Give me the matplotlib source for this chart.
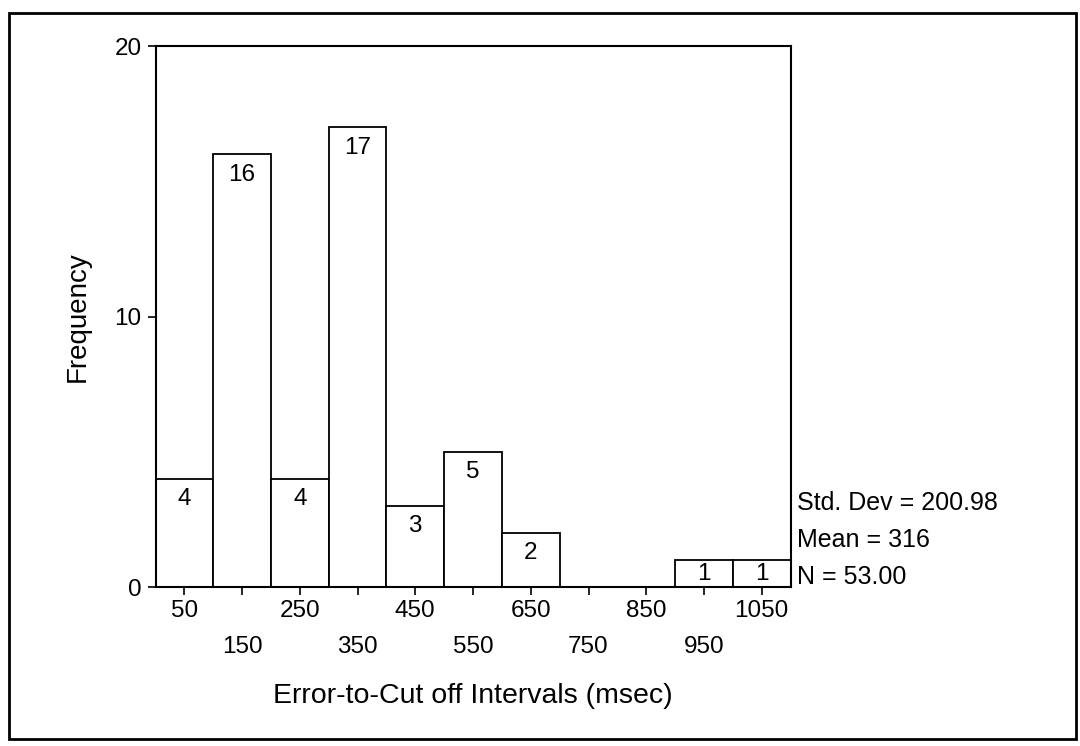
import numpy as np
import matplotlib.pyplot as plt
from matplotlib.patches import Rectangle

plt.rcParams.update(
    {
        "font.family": ["Liberation Sans", "DejaVu Sans"],
        "axes.linewidth": 1.5,
    }
)

# histogram of error-to-cut off intervals, bin width 100 msec
bin_centers = [50, 150, 250, 350, 450, 550, 650, 750, 850, 950, 1050]
counts = [4, 16, 4, 17, 3, 5, 2, 0, 0, 1, 1]
row1_ticks = [50, 250, 450, 650, 850, 1050]
row2_ticks = [150, 350, 550, 750, 950]
stats_lines = ["Std. Dev = 200.98", "Mean = 316", "N = 53.00"]

bin_width = 100

fig = plt.figure(figsize=(10.8, 7.46), dpi=100)
ax = fig.add_axes([0.144, 0.213, 0.588, 0.725])

ax.bar(
    bin_centers,
    counts,
    width=bin_width,
    facecolor="white",
    edgecolor="black",
    linewidth=1.3,
)

for x, h in zip(bin_centers, counts):
    if h == 0:
        continue
    ax.text(
        x,
        h - min(0.75, h / 2),
        str(h),
        ha="center",
        va="center",
        fontsize=17.5,
    )

ax.set_xlim(0, 1100)
ax.set_ylim(0, 20)

ax.set_yticks([0, 10, 20])
ax.tick_params(axis="y", direction="out", length=6, width=1.2, labelsize=17.5, pad=4)

ax.set_xticks(row1_ticks)
ax.set_xticks(row2_ticks, minor=True)
ax.set_xticklabels([str(t) for t in row1_ticks])
ax.set_xticklabels([str(t) for t in row2_ticks], minor=True)
ax.tick_params(axis="x", which="major", direction="out", length=6, width=1.2,
               labelsize=17.5, pad=3)
ax.tick_params(axis="x", which="minor", direction="out", length=6, width=1.2,
               labelsize=17.5, pad=29)

ax.set_ylabel("Frequency", fontsize=20, labelpad=17)
ax.set_xlabel("Error-to-Cut off Intervals (msec)", fontsize=20.5, labelpad=18)

for i, line in enumerate(stats_lines):
    fig.text(0.738, 0.326 - i * 0.05, line, fontsize=18, va="center", ha="left")

# outer frame around the whole figure
fig.patches.append(
    Rectangle(
        (0.008, 0.01),
        0.988,
        0.972,
        transform=fig.transFigure,
        fill=False,
        edgecolor="black",
        linewidth=2,
    )
)

fig.savefig("out.png", dpi=100)
